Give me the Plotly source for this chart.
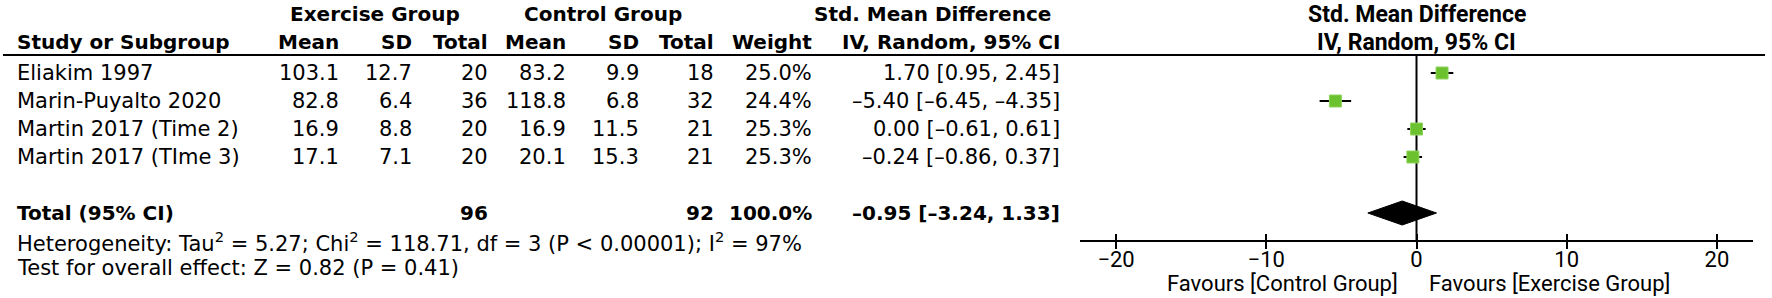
import plotly.graph_objects as go

# ---------------- data ----------------
studies = ["Eliakim 1997", "Marin-Puyalto 2020", "Martin 2017 (Time 2)", "Martin 2017 (TIme 3)"]
ex_mean = [103.1, 82.8, 16.9, 17.1]
ex_sd = [12.7, 6.4, 8.8, 7.1]
ex_n = [20, 36, 20, 20]
ct_mean = [83.2, 118.8, 16.9, 20.1]
ct_sd = [9.9, 6.8, 11.5, 15.3]
ct_n = [18, 32, 21, 21]
weight = [25.0, 24.4, 25.3, 25.3]
smd = [1.70, -5.40, 0.00, -0.24]
ci_lo = [0.95, -6.45, -0.61, -0.86]
ci_hi = [2.45, -4.35, 0.61, 0.37]
total_ex = 96
total_ct = 92
total_weight = 100.0
pooled_est = -0.95
pooled_lo = -3.24
pooled_hi = 1.33
heterogeneity = "Heterogeneity: Tau<sup>2</sup> = 5.27; Chi<sup>2</sup> = 118.71, df = 3 (P < 0.00001); I<sup>2</sup> = 97%"
overall_test = "Test for overall effect: Z = 0.82 (P = 0.41)"
tick_vals = [-20, -10, 0, 10, 20]
x_range = [-22.4, 22.4]
favours_left = "Favours [Control Group]"
favours_right = "Favours [Exercise Group]"

# ---------------- layout constants ----------------
W, H = 1772, 298
ROW0_PX, ROW_H = 73, 28          # pixel centre of first row, row pitch
def row_of(px):
    return (px - ROW0_PX) / ROW_H

HDR1 = row_of(14)
HDR2 = row_of(42)
HDR_LINE = row_of(55)
TOTAL_ROW = 5
HET_ROW = row_of(242)
TEST_ROW = row_of(268)
AXIS_PX = 241
AXIS_ROW = row_of(AXIS_PX)
FAV_ROW = row_of(283)

TFONT = "DejaVu Sans"
TSIZE = 21
BSIZE = 20
PFONT = "Roboto"
PSIZE = 22
GREEN = "#6CC22E"

def fmt_num(v, nd=2):
    s = f"{v:.{nd}f}"
    return s.replace("-", "\u2013")

def ci_text(e, lo, hi):
    return f"{fmt_num(e)} [{fmt_num(lo)}, {fmt_num(hi)}]"

fig = go.Figure()

# whiskers
wx, wy = [], []
for i, (lo, hi) in enumerate(zip(ci_lo, ci_hi)):
    wx += [lo, hi, None]
    wy += [i, i, None]
fig.add_trace(go.Scatter(x=wx, y=wy, mode="lines", line=dict(color="black", width=2),
                         hoverinfo="skip", showlegend=False))
# zero line
fig.add_trace(go.Scatter(x=[0, 0], y=[HDR_LINE, AXIS_ROW], mode="lines",
                         line=dict(color="black", width=2), hoverinfo="skip", showlegend=False))
# squares
fig.add_trace(go.Scatter(x=smd, y=list(range(len(smd))), mode="markers",
                         marker=dict(symbol="square", size=12, color=GREEN,
                                     line=dict(color="#8fd45e", width=1)),
                         showlegend=False))
# diamond
dh = 12 / ROW_H
fig.add_trace(go.Scatter(x=[pooled_lo, pooled_est, pooled_hi, pooled_est, pooled_lo],
                         y=[TOTAL_ROW, TOTAL_ROW - dh, TOTAL_ROW, TOTAL_ROW + dh, TOTAL_ROW],
                         mode="lines", fill="toself", fillcolor="black",
                         line=dict(color="black", width=1), showlegend=False))
# second x axis for upward tick halves
fig.add_trace(go.Scatter(x=[0], y=[AXIS_ROW], xaxis="x2", mode="markers",
                         marker=dict(size=1, opacity=0), showlegend=False, hoverinfo="skip"))

ann = []
def txt(x_px, row, text, anchor="right", bold=False, font=TFONT, size=None):
    if size is None:
        size = BSIZE if bold else TSIZE
    ann.append(dict(x=x_px / W, xref="paper", y=row, yref="y", text=(f"<b>{text}</b>" if bold else text),
                    xanchor=anchor, yanchor="middle", showarrow=False,
                    font=dict(family=font, size=size, color="black")))

# headers
txt(375, HDR1, "Exercise Group", "center", True)
txt(603, HDR1, "Control Group", "center", True)
txt(1053, HDR1, "Std. Mean Difference", "right", True)
txt(15, HDR2, "Study or Subgroup", "left", True)
cols = [(341, "Mean"), (414, "SD"), (490, "Total"), (568, "Mean"), (641, "SD"), (716, "Total"),
        (814, "Weight"), (1062, "IV, Random, 95% CI")]
for xp, label in cols:
    txt(xp, HDR2, label, "right", True)

# rows
for i, s in enumerate(studies):
    txt(15, i, s, "left")
    txt(341, i, f"{ex_mean[i]:.1f}")
    txt(414, i, f"{ex_sd[i]:.1f}")
    txt(490, i, f"{ex_n[i]}")
    txt(568, i, f"{ct_mean[i]:.1f}")
    txt(641, i, f"{ct_sd[i]:.1f}")
    txt(716, i, f"{ct_n[i]}")
    txt(814, i, f"{weight[i]:.1f}%")
    txt(1062, i, ci_text(smd[i], ci_lo[i], ci_hi[i]))

# total
txt(15, TOTAL_ROW, "Total (95% CI)", "left", True)
txt(490, TOTAL_ROW, f"{total_ex}", "right", True)
txt(716, TOTAL_ROW, f"{total_ct}", "right", True)
txt(814, TOTAL_ROW, f"{total_weight:.1f}%", "right", True)
txt(1062, TOTAL_ROW, ci_text(pooled_est, pooled_lo, pooled_hi), "right", True)
txt(15, HET_ROW, heterogeneity, "left")
txt(15, TEST_ROW, overall_test, "left")

# plot headers
for row, t in [(HDR1, "Std. Mean Difference"), (HDR2, "IV, Random, 95% CI")]:
    ann.append(dict(x=0, xref="x", y=row, yref="y", text=f"<b>{t}</b>", xanchor="center",
                    yanchor="middle", showarrow=False, font=dict(family=PFONT, size=23, color="black")))
ann.append(dict(x=0, xref="x", y=FAV_ROW, yref="y", text=favours_left, xanchor="right", xshift=-17,
                yanchor="middle", showarrow=False, font=dict(family=PFONT, size=PSIZE, color="black")))
ann.append(dict(x=0, xref="x", y=FAV_ROW, yref="y", text=favours_right, xanchor="left", xshift=10,
                yanchor="middle", showarrow=False, font=dict(family=PFONT, size=PSIZE, color="black")))

dom = [1080 / W, 1753 / W]
axis_pos = 1 - AXIS_PX / H
fig.update_layout(
    width=W, height=H, margin=dict(l=0, r=0, t=0, b=0),
    paper_bgcolor="white", plot_bgcolor="rgba(0,0,0,0)",
    showlegend=False,
    xaxis=dict(domain=dom, range=x_range, anchor="free", position=axis_pos,
               tickvals=tick_vals, ticks="outside", ticklen=7, tickwidth=2, tickcolor="black",
               ticklabelstandoff=-8,
               showline=True, linewidth=2, linecolor="black", showgrid=False, zeroline=False,
               tickfont=dict(family=PFONT, size=PSIZE, color="black")),
    xaxis2=dict(domain=dom, range=x_range, matches="x", overlaying="x", anchor="free", position=axis_pos,
                tickvals=tick_vals, ticks="inside", ticklen=7, tickwidth=2, tickcolor="black",
                showticklabels=False, showline=False, showgrid=False, zeroline=False),
    yaxis=dict(domain=[0, 1], range=[row_of(H), row_of(0)], visible=False, showgrid=False, zeroline=False),
    annotations=ann,
    shapes=[dict(type="line", xref="paper", yref="y", x0=3 / W, x1=1765 / W, y0=HDR_LINE, y1=HDR_LINE,
                 line=dict(color="black", width=2))],
)

fig.write_html("out.html", config={"displayModeBar": False},
               post_script="document.body.style.margin='0';document.body.style.overflow='hidden';")
